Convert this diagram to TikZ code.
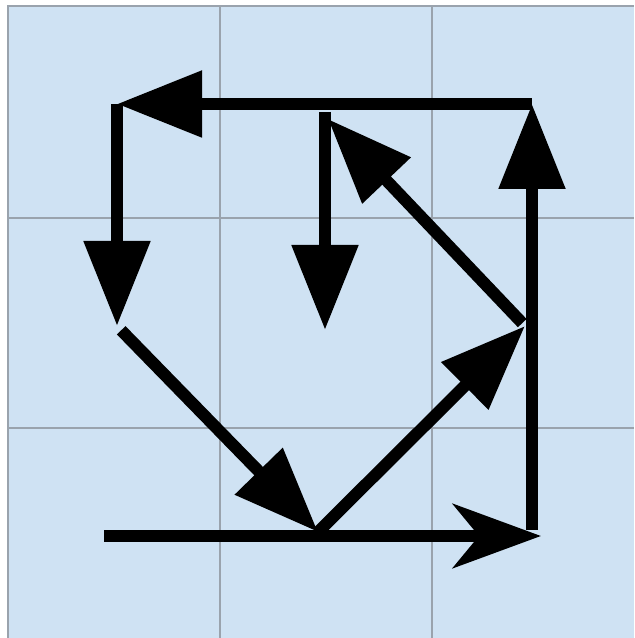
\documentclass[tikz,border=0pt]{standalone}
\usepackage{tikz}
\usetikzlibrary{arrows.meta,calc}
\definecolor{cellblue}{HTML}{CFE2F3}
\definecolor{gridgray}{HTML}{9AA3AD}

\begin{document}
\begin{tikzpicture}[
  gridline/.style={draw=gridgray, line width=0.6pt},
  move/.style={line width=0.12cm, -{Triangle[length=0.85cm, width=0.64cm]}},
  last move/.style={line width=0.12cm, -{Stealth[length=0.88cm, width=0.64cm, inset=0.26cm]}}
]
  \useasboundingbox (0,0) rectangle (6.34,6.38);
  % Background and grid
  \fill[cellblue] (0.08,0) rectangle (6.34,6.32);
  \draw[gridline] (0.08,0) -- (0.08,6.32) -- (6.34,6.32);
  \draw[gridline] (2.20,0) -- (2.20,6.32);
  \draw[gridline] (4.32,0) -- (4.32,6.32);
  \draw[gridline] (0.08,4.20) -- (6.34,4.20);
  \draw[gridline] (0.08,2.10) -- (6.34,2.10);
  % Points of the walk
  \coordinate (start) at (1.04,1.02);
  \coordinate (brtip) at (5.41,1.02);
  \coordinate (br)    at (5.32,1.08);
  \coordinate (tr)    at (5.32,5.34);
  \coordinate (tl)    at (1.17,5.34);
  \coordinate (ml)    at (1.17,3.12);
  \coordinate (bm)    at (3.18,1.06);
  \coordinate (mr)    at (5.25,3.12);
  \coordinate (tm)    at (3.28,5.19);
  \coordinate (tmtop) at (3.25,5.26);
  \coordinate (ctr)   at (3.25,3.08);
  % Moves
  \draw[last move] (start) -- (brtip);
  \draw[move] (br) -- (tr);
  \draw[move] (tr) -- (tl);
  \draw[move] (tl) -- (ml);
  \draw[move, shorten <=0.06cm] (ml) -- (bm);
  \draw[move] (bm) -- (mr);
  \draw[move, shorten <=0.04cm] (mr) -- (tm);
  \draw[move] (tmtop) -- (ctr);
\end{tikzpicture}
\end{document}
